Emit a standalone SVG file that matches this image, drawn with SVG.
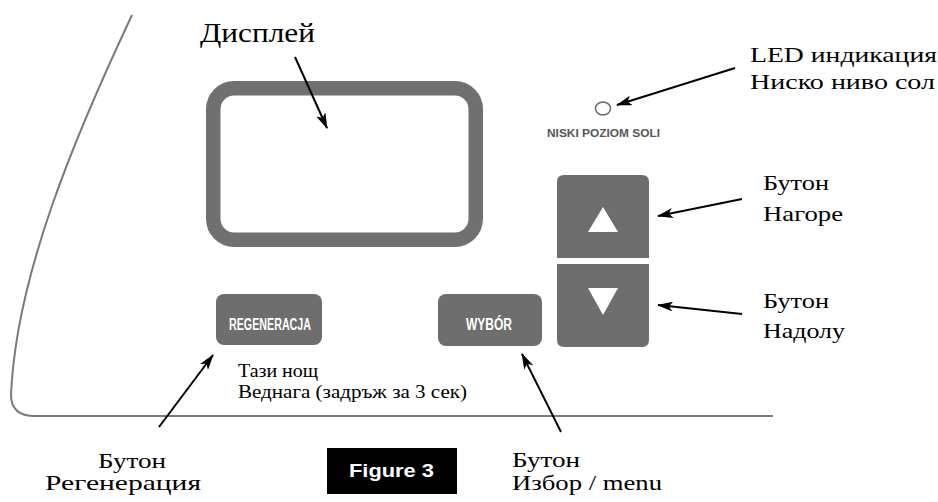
<svg xmlns="http://www.w3.org/2000/svg" width="938" height="502" viewBox="0 0 938 502">
<defs>
<marker id="ah" viewBox="0 0 16 10" refX="15" refY="5" markerWidth="16" markerHeight="10" orient="auto" markerUnits="userSpaceOnUse">
<path d="M0,0 L16,5 L0,10 L4,5 Z" fill="#000"/>
</marker>
<style>
.lbl{font-family:"Liberation Serif","Times New Roman",serif;font-size:21px;fill:#000}
.btn{fill:#6e6e6e}
.btxt{font-family:"Liberation Sans",Arial,sans-serif;font-weight:bold;fill:#fff}
.arr{stroke:#000;stroke-width:2;fill:none;marker-end:url(#ah)}
</style>
</defs>
<rect width="938" height="502" fill="#fff"/>
<g id="housing">
<path d="M132,15 C75.6,135 16,275 11,395 Q11,416 35,416 L773,416" fill="none" stroke="#7a7a7a" stroke-width="2"/>
</g>
<g id="display">
<rect x="213.25" y="88.25" width="262.5" height="151.5" rx="21" ry="21" fill="none" stroke="#707070" stroke-width="14.5"/>
<text class="lbl" x="200" y="42" style="font-size:28px" textLength="115" lengthAdjust="spacingAndGlyphs">Дисплей</text>
</g>
<g id="led">
<ellipse cx="603" cy="108.5" rx="7.5" ry="6.5" fill="#fff" stroke="#6a6a6a" stroke-width="1.5"/>
<text x="547" y="137" style="font-family:'Liberation Sans',Arial,sans-serif;font-weight:bold;font-size:11.5px;fill:#555" textLength="113" lengthAdjust="spacingAndGlyphs">NISKI POZIOM SOLI</text>
<text class="lbl" x="750" y="62" textLength="187" lengthAdjust="spacingAndGlyphs">LED индикация</text>
<text class="lbl" x="750" y="89" textLength="185" lengthAdjust="spacingAndGlyphs">Ниско ниво сол</text>
</g>
<g id="btn-up">
<path class="btn" d="M564,175 H642 Q649,175 649,182 V258 H557 V182 Q557,175 564,175 Z"/>
<polygon points="603,207 618,232 588,232" fill="#fff"/>
<text class="lbl" x="763" y="190" textLength="66" lengthAdjust="spacingAndGlyphs">Бутон</text>
<text class="lbl" x="763" y="221" textLength="80" lengthAdjust="spacingAndGlyphs">Нагоре</text>
</g>
<g id="btn-down">
<path class="btn" d="M557,264 H649 V340 Q649,347 642,347 H564 Q557,347 557,340 Z"/>
<polygon points="588,288 618,288 603,315" fill="#fff"/>
<text class="lbl" x="763" y="308" textLength="66" lengthAdjust="spacingAndGlyphs">Бутон</text>
<text class="lbl" x="763" y="338" textLength="82" lengthAdjust="spacingAndGlyphs">Надолу</text>
</g>
<g id="btn-regen">
<rect class="btn" x="216" y="294" width="106" height="51" rx="8" ry="8"/>
<text class="btxt" x="229" y="330" style="font-size:16px" textLength="82" lengthAdjust="spacingAndGlyphs">REGENERACJA</text>
<text class="lbl" x="238" y="377" style="font-size:19px" textLength="80" lengthAdjust="spacingAndGlyphs">Тази нощ</text>
<text class="lbl" x="238" y="398" style="font-size:19px" textLength="229" lengthAdjust="spacingAndGlyphs">Веднага (задръж за 3 сек)</text>
<text class="lbl" x="98" y="468" textLength="68" lengthAdjust="spacingAndGlyphs">Бутон</text>
<text class="lbl" x="45" y="490" textLength="156" lengthAdjust="spacingAndGlyphs">Регенерация</text>
</g>
<g id="btn-wybor">
<rect class="btn" x="438" y="294" width="104" height="52" rx="8" ry="8"/>
<text class="btxt" x="466" y="330" style="font-size:16px" textLength="46" lengthAdjust="spacingAndGlyphs">WYBÓR</text>
<text class="lbl" x="512" y="467" textLength="68" lengthAdjust="spacingAndGlyphs">Бутон</text>
<text class="lbl" x="512" y="490" textLength="150" lengthAdjust="spacingAndGlyphs">Избор / menu</text>
</g>
<g id="figure-label">
<rect x="327" y="448" width="130" height="46" fill="#000"/>
<text x="349" y="477" style="font-family:'Liberation Sans',Arial,sans-serif;font-weight:bold;font-size:19px;fill:#fff" textLength="85" lengthAdjust="spacingAndGlyphs">Figure 3</text>
</g>
<g id="connectors">
<line class="arr" x1="295" y1="57" x2="327" y2="128"/>
<line class="arr" x1="735" y1="68" x2="617" y2="105"/>
<line class="arr" x1="742" y1="199" x2="658" y2="216"/>
<line class="arr" x1="742" y1="314" x2="658" y2="305"/>
<line class="arr" x1="159" y1="427" x2="213" y2="355"/>
<line class="arr" x1="561" y1="432" x2="522" y2="354"/>
</g>
</svg>
